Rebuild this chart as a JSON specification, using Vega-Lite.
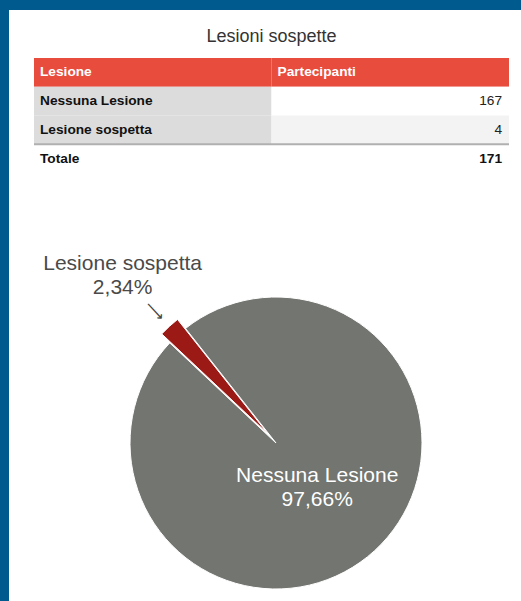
{
  "$schema": "https://vega.github.io/schema/vega-lite/v6.json",
  "background": "#015a8e",
  "padding": {"left": 9, "top": 10, "right": 0, "bottom": 0},
  "bounds": "flush",
  "spacing": 0,
  "config": {
    "view": {"stroke": null, "fill": "#ffffff"},
    "font": "Liberation Sans",
    "locale": {"number": {"decimal": ",", "thousands": ".", "grouping": [3], "currency": ["€", ""]}}
  },
  "datasets": {
    "lesioni": [
      {"Lesione": "Nessuna Lesione", "Partecipanti": 167, "Quota": 0.9766},
      {"Lesione": "Lesione sospetta", "Partecipanti": 4, "Quota": 0.0234},
      {"Lesione": "Totale", "Partecipanti": 171}
    ],
    "colonne": [{"Colonna": "Lesione"}, {"Colonna": "Partecipanti"}],
    "titolo": [{"Titolo": "Lesioni sospette"}]
  },
  "vconcat": [
    {
      "width": 512,
      "height": 275,
      "layer": [
        {
          "data": {"name": "colonne"},
          "mark": {"type": "rect", "fill": "#e84c3d"},
          "encoding": {
            "x": {"field": "Colonna", "type": "nominal", "axis": null,
                  "scale": {"type": "band", "domain": ["Lesione", "Partecipanti"], "paddingInner": 0, "paddingOuter": 0.0779, "align": 0.6757}},
            "y": {"datum": "Lesione", "type": "nominal", "axis": null,
                  "scale": {"type": "band", "domain": ["Lesioni sospette", "Lesione", "Nessuna Lesione", "Lesione sospetta", "Totale"], "paddingInner": 0, "paddingOuter": 0, "range": [19.25, 163]}}
          }
        },
        {
          "data": {"name": "colonne"},
          "mark": {"type": "text", "align": "left", "dx": 6, "fontSize": 13.7, "fontWeight": "bold", "color": "#ffffff"},
          "encoding": {
            "x": {"field": "Colonna", "type": "nominal", "bandPosition": 0},
            "y": {"datum": "Lesione", "type": "nominal"},
            "text": {"field": "Colonna", "type": "nominal"}
          }
        },
        {
          "data": {"name": "titolo"},
          "mark": {"type": "text", "align": "center", "dy": -7, "fontSize": 18, "color": "#333333"},
          "encoding": {
            "x": {"datum": "Partecipanti", "type": "nominal", "bandPosition": 0},
            "y": {"field": "Titolo", "type": "nominal"},
            "text": {"field": "Titolo", "type": "nominal"}
          }
        },
        {
          "data": {"name": "lesioni"},
          "transform": [{"filter": "datum.Lesione != 'Totale'"}],
          "mark": {"type": "rect", "fill": "#dcdcdc"},
          "encoding": {
            "x": {"datum": "Lesione", "type": "nominal"},
            "y": {"field": "Lesione", "type": "nominal"}
          }
        },
        {
          "data": {"name": "lesioni"},
          "transform": [{"filter": "datum.Lesione != 'Totale'"}],
          "mark": {"type": "rect"},
          "encoding": {
            "x": {"datum": "Partecipanti", "type": "nominal"},
            "y": {"field": "Lesione", "type": "nominal"},
            "fill": {"condition": {"test": "datum.Lesione == 'Lesione sospetta'", "value": "#f3f3f3"}, "value": "#ffffff"}
          }
        },
        {
          "data": {"name": "lesioni"},
          "mark": {"type": "text", "align": "left", "dx": 6, "fontSize": 13.7, "fontWeight": "bold", "color": "#111111"},
          "encoding": {
            "x": {"datum": "Lesione", "type": "nominal", "bandPosition": 0},
            "y": {"field": "Lesione", "type": "nominal"},
            "text": {"field": "Lesione", "type": "nominal"}
          }
        },
        {
          "data": {"name": "lesioni"},
          "transform": [{"filter": "datum.Lesione != 'Totale'"}],
          "mark": {"type": "text", "align": "right", "dx": -7, "fontSize": 13.7, "color": "#222222"},
          "encoding": {
            "x": {"datum": "Partecipanti", "type": "nominal", "bandPosition": 1},
            "y": {"field": "Lesione", "type": "nominal"},
            "text": {"field": "Partecipanti", "type": "quantitative"}
          }
        },
        {
          "data": {"name": "lesioni"},
          "transform": [{"filter": "datum.Lesione == 'Totale'"}],
          "mark": {"type": "text", "align": "right", "dx": -7, "fontSize": 13.7, "fontWeight": "bold", "color": "#111111"},
          "encoding": {
            "x": {"datum": "Partecipanti", "type": "nominal", "bandPosition": 1},
            "y": {"field": "Lesione", "type": "nominal"},
            "text": {"field": "Partecipanti", "type": "quantitative"}
          }
        },
        {
          "data": {"name": "titolo"},
          "mark": {"type": "rule", "stroke": "#b0b0b0", "strokeWidth": 2},
          "encoding": {
            "x": {"datum": "Lesione", "type": "nominal", "bandPosition": 0},
            "x2": {"datum": "Partecipanti", "bandPosition": 1},
            "y": {"datum": "Totale", "type": "nominal", "bandPosition": 0}
          }
        }
      ]
    },
    {
      "width": 512,
      "height": 316,
      "data": {"name": "lesioni"},
      "transform": [{"filter": "datum.Lesione != 'Totale'"}],
      "layer": [
        {
          "data": {"name": "titolo"},
          "mark": {"type": "rect", "fill": "#ffffff"},
          "encoding": {}
        },
        {
          "encoding": {
            "theta": {"field": "Partecipanti", "type": "quantitative", "stack": true, "scale": {"range": [5.4679, 11.7511]}},
            "order": {"field": "Lesione", "type": "nominal", "sort": "ascending"}
          },
          "layer": [
            {
              "mark": {"type": "arc", "radius": 146, "stroke": "#ffffff", "strokeWidth": 1, "xOffset": 11},
              "encoding": {
                "color": {"field": "Lesione", "type": "nominal", "legend": null,
                          "scale": {"domain": ["Nessuna Lesione", "Lesione sospetta"], "range": ["#727570", "#9c1a16"]}},
                "opacity": {"condition": {"test": "datum.Lesione == 'Nessuna Lesione'", "value": 1}, "value": 0}
              }
            },
            {
              "mark": {"type": "arc", "radius": 146, "stroke": "#ffffff", "strokeWidth": 1, "xOffset": 3, "yOffset": -9},
              "encoding": {
                "color": {"field": "Lesione", "type": "nominal", "legend": null},
                "opacity": {"condition": {"test": "datum.Lesione == 'Lesione sospetta'", "value": 1}, "value": 0}
              }
            },
            {
              "mark": {"type": "text", "radius": 227, "xOffset": 11, "dy": -12, "fontSize": 21, "color": "#4a4a4a"},
              "encoding": {
                "detail": {"field": "Lesione", "type": "nominal"},
                "text": {"condition": {"test": "datum.Lesione == 'Lesione sospetta'", "field": "Lesione", "type": "nominal"}, "value": ""}
              }
            },
            {
              "mark": {"type": "text", "radius": 227, "xOffset": 11, "dy": 12, "fontSize": 21, "color": "#4a4a4a"},
              "encoding": {
                "detail": {"field": "Lesione", "type": "nominal"},
                "text": {"condition": {"test": "datum.Lesione == 'Lesione sospetta'", "field": "Quota", "type": "quantitative", "format": ".2%"}, "value": ""}
              }
            },
            {
              "mark": {"type": "text", "radius": 179, "xOffset": 11, "angle": 47, "fontSize": 15, "font": "DejaVu Sans", "color": "#444444"},
              "encoding": {
                "detail": {"field": "Lesione", "type": "nominal"},
                "text": {"condition": {"test": "datum.Lesione == 'Lesione sospetta'", "value": "⟶"}, "value": ""}
              }
            },
            {
              "mark": {"type": "text", "radius": 61, "xOffset": 11, "dy": -12, "fontSize": 21, "color": "#ffffff"},
              "encoding": {
                "detail": {"field": "Lesione", "type": "nominal"},
                "text": {"condition": {"test": "datum.Lesione == 'Nessuna Lesione'", "field": "Lesione", "type": "nominal"}, "value": ""}
              }
            },
            {
              "mark": {"type": "text", "radius": 61, "xOffset": 11, "dy": 12, "fontSize": 21, "color": "#ffffff"},
              "encoding": {
                "detail": {"field": "Lesione", "type": "nominal"},
                "text": {"condition": {"test": "datum.Lesione == 'Nessuna Lesione'", "field": "Quota", "type": "quantitative", "format": ".2%"}, "value": ""}
              }
            }
          ]
        }
      ]
    }
  ]
}
